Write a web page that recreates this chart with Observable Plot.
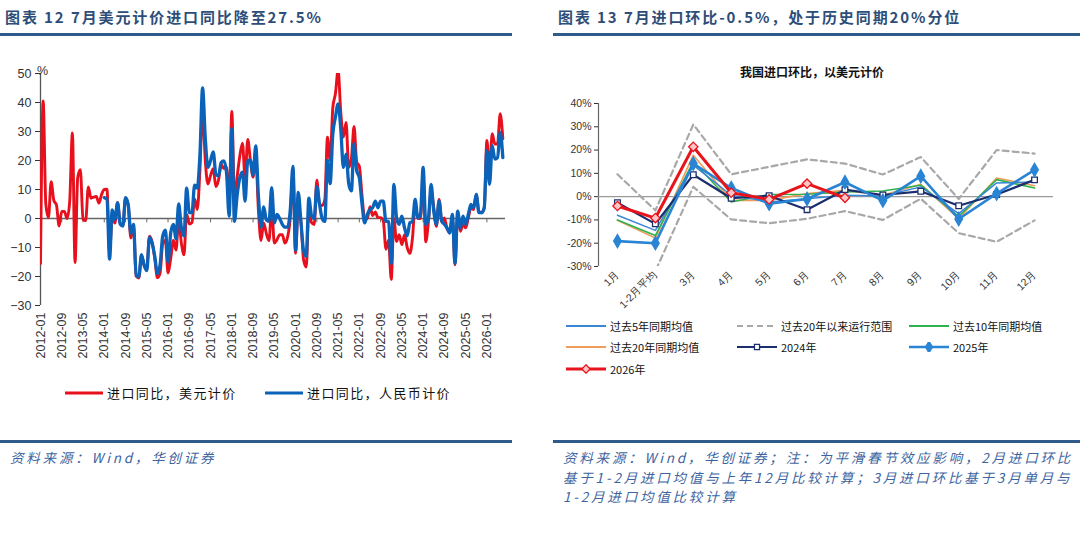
<!DOCTYPE html>
<html><head><meta charset="utf-8">
<script src="https://cdn.jsdelivr.net/npm/d3@7"></script>
<script src="https://cdn.jsdelivr.net/npm/@observablehq/plot@0.6"></script>
<style>
body{margin:0;width:1080px;height:533px;position:relative;background:#fff;font-family:"Noto Sans CJK SC","Noto Sans",sans-serif;overflow:hidden}
.abs{position:absolute}
.title{font-size:15px;color:#2d4e78;letter-spacing:1.9px;font-weight:700;white-space:nowrap;line-height:20px}
.hr{height:2.5px;background:#2f5b8a}
.foot{font-style:italic;color:#3d64a0;font-size:13.5px;letter-spacing:2.8px;line-height:19.5px;white-space:nowrap}
.leg{display:flex;align-items:center;white-space:nowrap}
#left [aria-label^="x-axis"] text{font-size:12.5px}
#right [aria-label^="x-axis"] text{font-size:10.5px}
#right [aria-label^="y-axis"] text{font-size:10.5px}
#right text, #left text{fill:#333}
</style></head>
<body>
<div class="abs title" style="left:5px;top:7px">图表 12 7月美元计价进口同比降至27.5%</div>
<div class="abs hr" style="left:0;top:33px;width:512px"></div>
<div class="abs title" style="left:558px;top:7px">图表 13 7月进口环比-0.5%，处于历史同期20%分位</div>
<div class="abs hr" style="left:553px;top:33px;width:527px"></div>

<div id="left" class="abs" style="left:0;top:40px"></div>
<div class="abs" style="left:37px;top:64px;font-family:'Liberation Sans',Arial,sans-serif;font-size:12.5px;color:#333">%</div>
<div id="leftLegend" class="abs" style="left:65px;top:383px;font-size:13px;letter-spacing:1.4px;color:#111"></div>

<div class="abs" style="left:652px;width:320px;top:63px;text-align:center;font-size:12px;font-weight:700;color:#111">我国进口环比，以美元计价</div>
<div id="right" class="abs" style="left:545px;top:90px"></div>
<div id="rightLegend" class="abs" style="left:566px;top:315px;display:grid;grid-template-columns:171px 172px 171px;grid-auto-rows:21.5px;font-size:11px;color:#111"></div>

<div class="abs hr" style="left:0;top:440px;width:512px;height:3px"></div>
<div class="abs hr" style="left:553px;top:440px;width:527px;height:3px"></div>
<div class="abs foot" style="left:10px;top:448px">资料来源：Wind，华创证券</div>
<div class="abs foot" style="left:563px;top:448px">资料来源：Wind，华创证券；注：为平滑春节效应影响，2月进口环比<br>基于1-2月进口均值与上年12月比较计算；3月进口环比基于3月单月与<br>1-2月进口均值比较计算</div>

<script>
// ---------- Left chart data (monthly, 2012-01 .. 2026-07) ----------
const xTickLabels = ["2012-01","2012-09","2013-05","2014-01","2014-09","2015-05","2016-01","2016-09","2017-05","2018-01","2018-09","2019-05","2020-01","2020-09","2021-05","2022-01","2022-09","2023-05","2024-01","2024-09","2025-05","2026-01"];
const usdYoY = [
 -15.5,40.5,5.0,0.3,12.7,6.3,4.7,-2.6,2.4,2.4,0.0,6.0,
 29.5,-15.2,14.1,16.8,-0.3,-0.7,10.9,7.0,7.4,7.6,5.3,8.3,
 10.0,10.1,-11.3,0.8,-1.6,5.5,-1.6,-2.4,7.0,4.6,-6.7,-2.4,
 -19.9,-20.5,-12.7,-16.2,-17.6,-6.1,-8.1,-13.8,-20.4,-18.8,-8.7,-7.6,
 -18.8,-13.8,-7.6,-10.9,-0.4,-8.4,-12.5,1.5,-1.9,-1.4,6.7,3.1,
 16.7,38.1,20.3,11.9,14.8,17.2,11.0,13.3,18.7,17.2,17.7,4.5,
 36.9,6.3,14.4,21.5,26.0,14.1,27.3,20.0,14.3,21.4,3.0,-7.6,
 -1.5,-5.2,-7.6,4.0,-8.5,-7.3,-5.6,-5.6,-8.5,-6.4,0.3,16.3,
 -12.0,4.0,-0.9,-14.2,-16.7,2.7,-1.4,-2.1,13.2,4.7,4.5,6.5,
 28.0,20.0,38.1,43.1,51.1,36.7,28.1,33.1,17.6,20.6,31.7,19.5,
 18.0,8.0,-0.1,0.0,4.1,1.0,2.3,0.3,0.3,-0.7,-10.6,-7.5,
 -21.0,0.0,-7.9,-5.6,-9.0,-5.6,-10.0,-12.0,-6.7,4.9,0.0,0.0,
 15.0,-8.0,-1.0,9.5,3.7,-2.7,6.6,-1.0,0.2,-3.5,-4.6,0.2,
 -16.0,1.4,-4.4,-2.0,-3.2,0.2,3.7,3.1,8.3,2.5,2.0,3.7,
 26.9,16.4,29.2,25.7,25.7,36.1,27.5
];
const rmbStartLabel = "2014-01";
const rmbYoY = [
 7.2,6.6,-14.0,3.0,-0.3,5.4,-2.0,-2.6,7.2,4.9,-5.0,-2.0,
 -19.7,-20.0,-12.5,-16.0,-18.0,-6.5,-8.5,-13.0,-19.0,-16.0,-6.0,-4.0,
 -15.0,-5.0,-2.0,-7.0,5.0,-3.0,-6.0,10.5,2.0,2.0,11.5,10.5,
 22.0,45.0,28.0,17.6,20.0,23.0,15.3,14.7,19.3,19.9,15.8,0.8,
 31.0,-1.0,8.0,14.0,16.0,6.0,20.0,20.0,15.0,25.0,8.0,-3.0,
 4.0,-0.5,-1.0,10.6,-1.5,1.4,0.0,-2.0,-3.0,-3.0,3.0,18.0,
 -11.0,9.0,-1.0,-11.0,-13.0,7.0,1.0,0.0,11.0,5.0,0.0,-1.0,
 20.0,12.0,29.0,35.0,39.5,31.0,17.6,22.2,12.0,9.5,25.7,16.5,
 14.0,5.0,-1.5,1.4,3.1,3.7,6.0,3.7,6.0,6.0,-1.0,-1.0,
 -15.5,11.8,0.2,-2.0,0.8,-3.2,-6.0,-1.5,-1.0,6.6,0.2,1.4,
 17.6,-2.0,0.0,11.8,2.5,-2.0,6.0,-1.0,-2.0,-3.2,-5.0,1.4,
 -15.4,2.5,-3.2,0.8,-2.0,1.4,4.9,3.7,8.3,2.0,2.0,3.7,
 23.4,11.8,25.1,20.5,21.0,29.7,21.0
];
const leftSeriesNames = ["进口同比，美元计价","进口同比，人民币计价"];

// ---------- Right chart data ----------
const categories = ["1月","1-2月平均","3月","4月","5月","6月","7月","8月","9月","10月","11月","12月"];
const avg5Yr  = [-8.0,-14.5,13.5,0.6,-2.3,-0.9,0.6,0.3,4.2,-7.3,5.9,6.3];
const avg10Yr = [-10.0,-16.7,15.0,-2.3,0.9,1.0,2.0,2.4,4.9,-8.5,7.3,3.7];
const avg20Yr = [-10.2,-17.8,17.8,-1.6,-1.6,1.3,2.7,0.6,5.3,-9.5,8.0,4.7];
const rangeUpper = [9.6,-5.9,31.0,9.6,12.8,16.0,14.2,9.5,17.0,-1.0,20.0,18.5];
const rangeLower = [-35.0,-32.0,4.2,-9.8,-11.4,-9.5,-6.2,-10.0,-0.9,-15.7,-19.4,-10.2];
const y2024 = [-2.6,-11.7,9.4,-0.7,0.4,-5.6,3.0,0.7,2.3,-3.9,0.9,7.2];
const y2025 = [-19.1,-20.0,14.2,3.7,-3.0,-1.0,6.2,-1.7,8.8,-9.6,1.3,11.5];
const y2026 = [-4.0,-9.2,21.4,1.7,-1.2,5.6,-0.5];

// ---------- Left chart ----------
const months = usdYoY.map((_, i) => i);
const rmbOffset = (+rmbStartLabel.slice(0,4) - +xTickLabels[0].slice(0,4)) * 12 + (+rmbStartLabel.slice(5) - +xTickLabels[0].slice(5));
const usdRows = usdYoY.map((v, i) => ({i, v}));
const rmbRows = rmbYoY.map((v, k) => ({i: k + rmbOffset, v}));
const tickIdx = xTickLabels.map(lab => (+lab.slice(0,4) - +xTickLabels[0].slice(0,4)) * 12 + (+lab.slice(5) - 1));

const leftColors = ["#e8101c", "#0b62b9"];
const leftPlot = Plot.plot({
  width: 520, height: 330, marginLeft: 40, marginRight: 15, marginTop: 33, marginBottom: 65,
  style: {fontFamily: "'Liberation Sans', Arial, sans-serif", fontSize: "12.5px", color: "#333", background: "transparent", overflow: "visible"},
  x: {domain: [0, months.length], ticks: tickIdx, tickFormat: d => xTickLabels[tickIdx.indexOf(d)], tickRotate: -90, tickSize: 0, tickPadding: 7, label: null},
  y: {domain: [-30, 50], ticks: d3.range(-30, 51, 10), tickSize: 5, tickPadding: 4, label: null},
  marks: [
    Plot.ruleY([0], {stroke: "#666", strokeWidth: 1.3}),
    Plot.ruleX(tickIdx, {x: d => d, y1: 0, y2: -1.5, stroke: "#666", strokeWidth: 1}),
    Plot.ruleX([0], {y1: -30, y2: 50, stroke: "#555", strokeWidth: 1.3}),
    Plot.line(usdRows, {x: "i", y: "v", stroke: leftColors[0], strokeWidth: 2.9, curve: "monotone-x", clip: true}),
    Plot.line(rmbRows, {x: "i", y: "v", stroke: leftColors[1], strokeWidth: 3.3, curve: "monotone-x", clip: true})
  ]
});
document.getElementById("left").appendChild(leftPlot);

const ll = document.getElementById("leftLegend");
ll.style.display = "flex";
leftSeriesNames.forEach((name, k) => {
  const item = document.createElement("div");
  item.className = "leg";
  item.style.width = k === 0 ? "200px" : "auto";
  item.innerHTML = `<svg width="42" height="8"><line x1="0" x2="38" y1="4" y2="4" stroke="${leftColors[k]}" stroke-width="3"/></svg><span>${name}</span>`;
  ll.appendChild(item);
});

// ---------- Right chart ----------
const rightSeries = [
  {name: "过去5年同期均值", values: avg5Yr, color: "#3a86d6", width: 1.5},
  {name: "过去20年以来运行范围", values: rangeUpper, lower: rangeLower, color: "#a8a8a8", width: 2.2, dash: "6,4"},
  {name: "过去10年同期均值", values: avg10Yr, color: "#2fb24c", width: 1.6},
  {name: "过去20年同期均值", values: avg20Yr, color: "#ee9d5a", width: 1.6},
  {name: "2024年", values: y2024, color: "#1b2f6e", width: 2.2, symbol: "square", fill: "#fff", r: 3.2},
  {name: "2025年", values: y2025, color: "#2a84d4", width: 2.6, symbol: "diamond", fill: "#2a84d4", r: 4},
  {name: "2026年", values: y2026, color: "#e8141c", width: 3, symbol: "diamond2", fill: "#ffc4c4", r: 4.2}
];
const toRows = vals => vals.map((v, i) => ({i, v}));
const drawOrder = [1, 3, 2, 0, 4, 5, 6];
const rightMarks = [
  Plot.ruleX([-0.5], {y1: -30, y2: 40, stroke: "#666", strokeWidth: 1.2}),
  Plot.ruleY([0], {stroke: "#9a9a9a", strokeWidth: 1.4})
];
drawOrder.forEach(k => {
  const s = rightSeries[k];
  const opts = {x: "i", y: "v", stroke: s.color, strokeWidth: s.width, clip: true};
  if (s.dash) opts.strokeDasharray = s.dash;
  rightMarks.push(Plot.line(toRows(s.values), opts));
  if (s.lower) rightMarks.push(Plot.line(toRows(s.lower), opts));
  if (s.symbol) rightMarks.push(Plot.dot(toRows(s.values), {x: "i", y: "v", symbol: () => s.symbol, r: s.r, fill: s.fill, stroke: s.color, strokeWidth: 1.3}));
});
const rightPlot = Plot.plot({
  width: 535, height: 230, marginLeft: 53, marginRight: 27, marginTop: 13, marginBottom: 54,
  style: {fontFamily: "'Liberation Sans', Arial, sans-serif", fontSize: "10px", color: "#333", background: "transparent", overflow: "visible"},
  x: {domain: [-0.5, categories.length - 0.5], ticks: d3.range(categories.length), tickFormat: i => categories[i], tickRotate: -45, tickSize: 0, tickPadding: 6, label: null},
  y: {domain: [-30, 40], ticks: d3.range(-30, 41, 10), tickFormat: d => d + "%", tickSize: 4, tickPadding: 3, label: null},
  symbol: {type: "identity"},
  marks: rightMarks
});
document.getElementById("right").appendChild(rightPlot);

const rl = document.getElementById("rightLegend");
rightSeries.forEach(s => {
  const item = document.createElement("div");
  item.className = "leg";
  let marker = "";
  if (s.symbol) {
    const symMap = {square: d3.symbolSquare, diamond: d3.symbolDiamond, diamond2: d3.symbolDiamond2};
    const path = d3.symbol(symMap[s.symbol], Math.PI * s.r * s.r * 0.8)();
    marker = `<path transform="translate(20,5)" d="${path}" fill="${s.fill}" stroke="${s.color}" stroke-width="1.3"/>`;
  }
  item.innerHTML = `<svg width="44" height="10"><line x1="0" x2="40" y1="5" y2="5" stroke="${s.color}" stroke-width="${Math.max(2, s.width)}" ${s.dash ? `stroke-dasharray="${s.dash}"` : ""}/>${marker}</svg><span>${s.name}</span>`;
  rl.appendChild(item);
});
</script>
</body></html>
